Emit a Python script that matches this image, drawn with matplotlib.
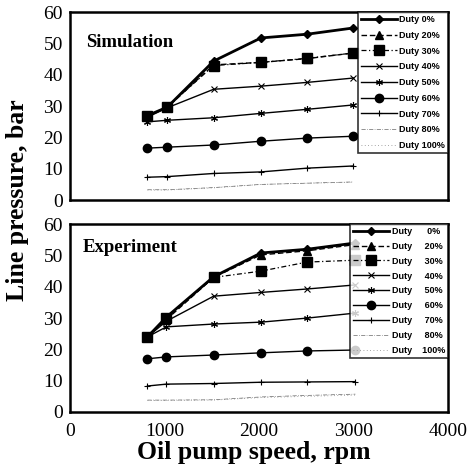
"""Line pressure vs oil pump speed: simulation and experiment panels."""

import matplotlib

matplotlib.use("Agg")
import matplotlib.pyplot as plt

# oil pump speed, rpm
speed = [820, 1030, 1520, 2020, 2510, 3000]
speed_exp = [820, 1020, 1520, 2020, 2510, 3020]

duty_labels = ["0%", "20%", "30%", "40%", "50%", "60%", "70%", "80%", "100%"]

# Simulation, line pressure in bar
sim_0 = [27.0, 29.7, 44.4, 51.8, 53.0, 55.0]
sim_20 = [27.0, 29.7, 43.2, 44.0, 45.2, 47.0]
sim_30 = [27.0, 29.7, 43.0, 44.0, 45.3, 47.0]
sim_40 = [26.5, 29.5, 35.4, 36.4, 37.6, 39.0]
sim_50 = [25.0, 25.5, 26.3, 27.7, 29.0, 30.4]
sim_60 = [16.6, 16.9, 17.6, 18.8, 19.8, 20.4]
sim_70 = [7.3, 7.5, 8.5, 9.0, 10.2, 10.9]
sim_80 = [3.3, 3.3, 4.0, 5.0, 5.4, 5.8]
sim_100 = [3.2, 3.2, 3.9, 5.0, 5.4, 5.7]

# Experiment, line pressure in bar
exp_0 = [24.0, 30.3, 43.2, 50.8, 52.0, 54.0]
exp_20 = [24.0, 29.5, 43.0, 50.2, 51.5, 53.5]
exp_30 = [24.0, 30.0, 43.0, 45.0, 47.9, 48.5]
exp_40 = [24.0, 29.0, 37.0, 38.2, 39.3, 40.6]
exp_50 = [24.0, 27.2, 28.1, 28.7, 30.0, 31.6]
exp_60 = [17.0, 17.6, 18.2, 18.9, 19.5, 19.8]
exp_70 = [8.3, 8.9, 9.1, 9.5, 9.6, 9.7]
exp_80 = [3.8, 3.8, 3.9, 4.8, 5.3, 5.7]
exp_100 = [3.7, 3.7, 3.8, 4.6, 5.0, 5.4]

sim_series = [sim_0, sim_20, sim_30, sim_40, sim_50, sim_60, sim_70, sim_80, sim_100]
exp_series = [exp_0, exp_20, exp_30, exp_40, exp_50, exp_60, exp_70, exp_80, exp_100]

STYLES = [
    dict(color="black", lw=2.0, ls="-", marker="D", ms=4.5),
    dict(color="black", lw=1.0, ls=(0, (4, 2)), marker="^", ms=5.5),
    dict(color="black", lw=0.9, ls=(0, (4, 2, 1, 2)), marker="s", ms=6.5),
    dict(color="black", lw=1.0, ls="-", marker="x", ms=4, mew=0.8),
    dict(color="black", lw=1.0, ls="-", marker=(6, 2, 0), ms=5, mew=0.8),
    dict(color="black", lw=1.0, ls="-", marker="o", ms=6),
    dict(color="black", lw=1.0, ls="-", marker="+", ms=5, mew=0.8),
    dict(color="#666666", lw=0.5, ls=(0, (6, 2, 1, 2)), marker="", ms=0),
    dict(color="#888888", lw=0.6, ls=(0, (1, 3)), marker="", ms=0),
]

SERIF = "Liberation Serif"

fig = plt.figure(figsize=(4.73, 4.73), dpi=100)
ax_top = fig.add_axes([0.148, 0.577, 0.799, 0.397])
ax_bot = fig.add_axes([0.148, 0.129, 0.799, 0.397])


def draw_panel(ax, xs, series, title, title_pos, labels, spacing):
    handles = []
    for ys, style in zip(series, STYLES):
        (h,) = ax.plot(xs, ys, **style)
        handles.append(h)
    ax.set_xlim(0, 4000)
    ax.set_ylim(0, 60)
    ax.set_yticks(range(0, 61, 10))
    ax.set_xticks(range(0, 4001, 1000))
    ax.tick_params(length=0, labelsize=14)
    ax.tick_params(axis="y", pad=5)
    ax.tick_params(axis="x", pad=8)
    for lab in ax.get_xticklabels() + ax.get_yticklabels():
        lab.set_family(SERIF)
    for side in ax.spines.values():
        side.set_linewidth(1.8)
    ax.text(title_pos[0], title_pos[1], title, transform=ax.transAxes, family=SERIF,
            fontweight="bold", fontsize=13.5, va="center")
    leg = ax.legend(handles, labels, loc="upper right", bbox_to_anchor=(1.0, 1.0),
                    prop={"family": "Liberation Sans", "size": 6.5, "weight": "bold"},
                    frameon=True, fancybox=False, edgecolor="black",
                    borderpad=0.3, labelspacing=spacing, handlelength=4.0,
                    handletextpad=0.3, borderaxespad=0.0)
    leg.get_frame().set_linewidth(1.2)


draw_panel(ax_top, speed, sim_series, "Simulation", (0.042, 0.84),
           ["Duty " + d for d in duty_labels], 0.75)
draw_panel(ax_bot, speed_exp, exp_series, "Experiment", (0.034, 0.878),
           ["Duty  " + d.rjust(6) for d in duty_labels], 0.65)
ax_top.set_xticklabels([])

fig.text(0.036, 0.577, "Line pressure, bar", rotation=90, va="center", ha="center",
         family=SERIF, fontweight="bold", fontsize=18.5)
fig.text(0.537, 0.044, "Oil pump speed, rpm", va="center", ha="center",
         family=SERIF, fontweight="bold", fontsize=18.5)

fig.savefig("out.png", dpi=100)
